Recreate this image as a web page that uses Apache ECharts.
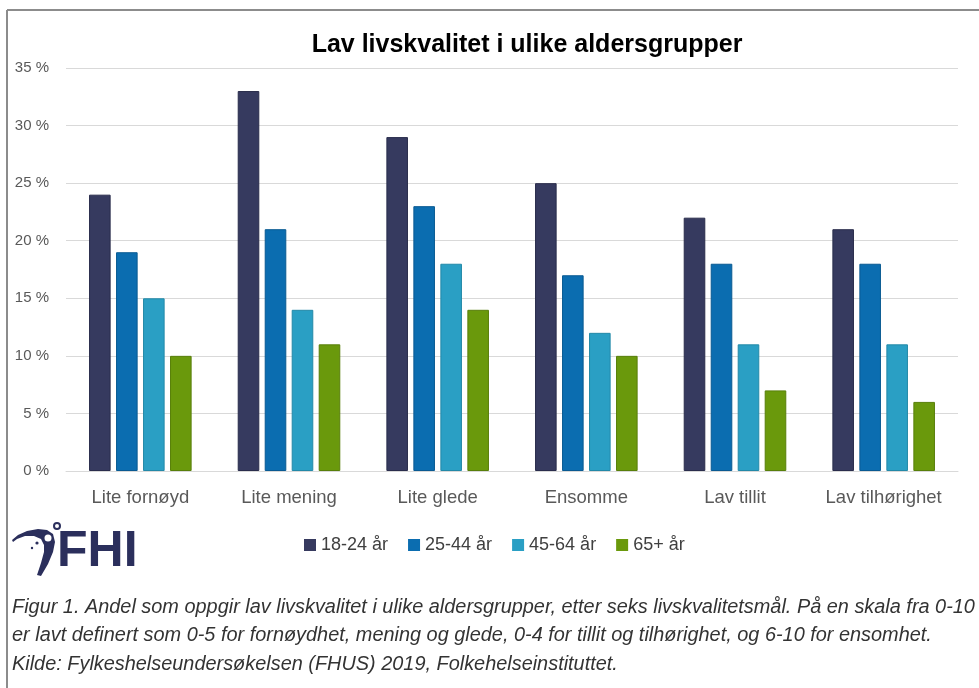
<!DOCTYPE html>
<html>
<head>
<meta charset="utf-8">
<title>Lav livskvalitet i ulike aldersgrupper</title>
<script src="https://cdn.jsdelivr.net/npm/echarts@6/dist/echarts.min.js"></script>
<style>
    html, body {margin: 0; padding: 0; background: #fff;}
    #chart {width: 979px; height: 688px;}
</style>
</head>
<body>
<div id="chart"></div>
<script>
// data
let categories = ['Lite fornøyd', 'Lite mening', 'Lite glede', 'Ensomme', 'Lav tillit', 'Lav tilhørighet'];
let seriesNames = ['18-24 år', '25-44 år', '45-64 år', '65+ år'];
let age18to24 = [24, 33, 29, 25, 22, 21];
let age25to44 = [19, 21, 23, 17, 18, 18];
let age45to64 = [15, 14, 18, 12, 11, 11];
let age65plus = [10, 11, 14, 10, 7, 6];
let yTicks = [0, 5, 10, 15, 20, 25, 30, 35];

let colors = ['#363a5f', '#0b6db0', '#2a9fc4', '#6a990c'];
let borders = ['#2a2d4c', '#095a92', '#2389a8', '#587f0a'];
let captionLines = [
    'Figur 1. Andel som oppgir lav livskvalitet i ulike aldersgrupper, etter seks livskvalitetsmål. På en skala fra 0-10',
    'er lavt definert som 0-5 for fornøydhet, mening og glede, 0-4 for tillit og tilhørighet, og 6-10 for ensomhet.',
    'Kilde: Fylkeshelseundersøkelsen (FHUS) 2019, Folkehelseinstituttet.'
];

let chart = echarts.init(document.getElementById('chart'));
let values = [age18to24, age25to44, age45to64, age65plus];

let series = values.map(function (data, i) {
    return {
        name: seriesNames[i],
        type: 'bar',
        data: data,
        barGap: '25%',
        barCategoryGap: '31%',
        itemStyle: {
            color: colors[i],
            borderColor: borders[i],
            borderWidth: 1
        }
    };
});

// caption under the chart
let captionGraphics = captionLines.map(function (line, i) {
    return {
        type: 'text',
        left: 12,
        top: 597 + i * 28.5,
        style: {
            text: line,
            fontFamily: 'Liberation Sans',
            fontStyle: 'italic',
            fontSize: 19.9,
            fill: '#333333'
        }
    };
});

let logoColor = '#2b2f5c';

let option = {
    backgroundColor: '#ffffff',
    color: colors,
    title: {
        text: 'Lav livskvalitet i ulike aldersgrupper',
        left: 522,
        textAlign: 'center',
        top: 28,
        textStyle: {
            fontFamily: 'Liberation Sans',
            fontWeight: 'bold',
            fontSize: 25,
            color: '#000000'
        }
    },
    legend: {
        data: seriesNames,
        left: 299,
        top: 531,
        icon: 'rect',
        itemWidth: 12,
        itemHeight: 12,
        itemGap: 20,
        itemStyle: {borderWidth: 0},
        textStyle: {
            fontFamily: 'Liberation Sans',
            fontSize: 18,
            color: '#404040'
        }
    },
    grid: {
        left: 66,
        right: 21,
        top: 68,
        bottom: 217
    },
    xAxis: {
        type: 'category',
        data: categories,
        axisTick: {show: false},
        axisLine: {lineStyle: {color: '#d9d9d9'}},
        axisLabel: {
            interval: 0,
            margin: 17,
            fontFamily: 'Liberation Sans',
            fontSize: 18.5,
            color: '#595959'
        }
    },
    yAxis: {
        type: 'value',
        min: yTicks[0],
        max: yTicks[yTicks.length - 1],
        interval: 5,
        axisLabel: {
            margin: 17,
            fontFamily: 'Liberation Sans',
            fontSize: 15,
            color: '#595959',
            formatter: '{value} %'
        },
        splitLine: {lineStyle: {color: '#d9d9d9'}}
    },
    graphic: [
        // frame lines
        {type: 'line', shape: {x1: 7, y1: 10, x2: 979, y2: 10}, style: {stroke: '#8c8c8c', lineWidth: 2}},
        {type: 'line', shape: {x1: 7, y1: 10, x2: 7, y2: 688}, style: {stroke: '#8c8c8c', lineWidth: 2}},
        // FHI logo
        {
            type: 'polygon',
            shape: {
                points: [[12, 540], [18, 535], [27, 531], [38, 529], [47, 530], [53, 534], [55, 542],
                    [53, 552], [48, 564], [41, 576], [37, 575], [41, 563], [44, 552], [44, 545],
                    [41, 539], [34, 536], [25, 536], [17, 539], [13, 542]]
            },
            style: {fill: logoColor}
        },
        {type: 'circle', shape: {cx: 57, cy: 526, r: 3}, style: {fill: 'none', stroke: logoColor, lineWidth: 2}},
        {type: 'circle', shape: {cx: 48, cy: 538, r: 3.5}, style: {fill: '#ffffff'}},
        {type: 'circle', shape: {cx: 37, cy: 543, r: 1.6}, style: {fill: logoColor}},
        {type: 'circle', shape: {cx: 32, cy: 548, r: 1.2}, style: {fill: logoColor}},
        {
            type: 'text',
            left: 57,
            top: 527,
            style: {
                text: 'FHI',
                fontFamily: 'Liberation Sans',
                fontWeight: 'bold',
                fontSize: 50,
                fill: logoColor
            }
        }
    ].concat(captionGraphics),
    series: series
};

chart.setOption(option);
</script>
</body>
</html>
